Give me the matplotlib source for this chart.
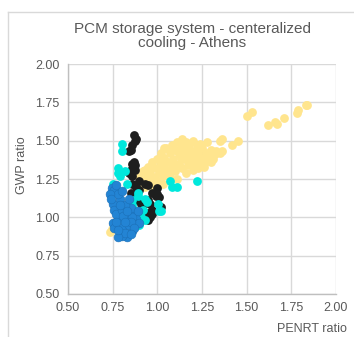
import matplotlib
matplotlib.use("Agg")
import matplotlib.pyplot as plt
from matplotlib.lines import Line2D

plt.rcParams['font.family'] = ['Liberation Sans', 'DejaVu Sans']

# Scenario series: (PENRT ratio, GWP ratio)
yellow_x = [0.735, 0.745, 0.76, 0.78, 0.82, 0.85, 0.87, 0.88, 0.90, 0.90, 0.92, 0.92, 0.93, 0.94,
            0.95, 0.96, 0.96, 0.97, 0.98, 0.99, 1.00, 1.00, 1.01, 1.02, 1.02, 1.03, 1.04, 1.04,
            1.05, 1.06, 1.06, 1.07, 1.08, 1.08, 1.09, 1.10, 1.10, 1.11, 1.12, 1.12, 1.13, 1.14,
            1.14, 1.15, 1.15, 1.16, 1.17, 1.17, 1.18, 1.19, 1.19, 1.20, 1.21, 1.21, 1.22, 1.23,
            1.23, 1.24, 1.25, 1.25, 1.26, 1.27, 1.28, 1.29, 1.30, 1.31, 1.32, 1.33, 1.35, 1.36,
            1.35, 1.36, 1.42, 1.45, 1.50, 1.53, 1.62, 1.66, 1.67, 1.71, 1.78, 1.79, 1.83, 1.84,
            0.98, 1.00, 0.93, 0.91, 1.03, 1.07, 1.11, 1.16, 1.20, 1.26, 1.30, 1.13, 1.09, 0.95,
            1.04, 1.18, 1.23, 1.28]
yellow_y = [0.905, 0.925, 0.95, 0.98, 1.05, 1.12, 1.15, 1.18, 1.22, 1.26, 1.24, 1.30, 1.20, 1.27,
            1.33, 1.22, 1.30, 1.36, 1.26, 1.32, 1.38, 1.24, 1.29, 1.35, 1.42, 1.27, 1.32, 1.39,
            1.45, 1.30, 1.36, 1.42, 1.33, 1.47, 1.38, 1.44, 1.30, 1.49, 1.35, 1.41, 1.46, 1.32,
            1.51, 1.38, 1.44, 1.49, 1.34, 1.41, 1.47, 1.37, 1.43, 1.50, 1.33, 1.40, 1.46, 1.36,
            1.42, 1.48, 1.39, 1.45, 1.36, 1.42, 1.49, 1.40, 1.44, 1.38, 1.41, 1.43, 1.42, 1.43,
            1.50, 1.51, 1.47, 1.50, 1.66, 1.69, 1.60, 1.62, 1.61, 1.65, 1.68, 1.70, 1.73, 1.73,
            1.19, 1.20, 1.31, 1.03, 1.22, 1.26, 1.25, 1.29, 1.31, 1.33, 1.36, 1.39, 1.34, 1.25,
            1.45, 1.39, 1.32, 1.37]

black_x = [0.87, 0.88, 0.875, 0.86, 0.85, 0.84, 0.87, 0.86, 0.875, 0.875, 0.85, 0.84, 0.86, 0.86,
           0.85, 0.88, 0.90, 0.90, 0.93, 0.95, 0.996, 1.01, 1.02, 0.97, 0.96, 0.95, 0.88, 0.87,
           0.92, 0.94, 0.97, 1.00, 0.875, 0.99, 0.96, 0.97, 0.94, 0.95, 0.875, 0.91]
black_y = [1.535, 1.51, 1.50, 1.47, 1.44, 1.43, 1.36, 1.35, 1.34, 1.31, 1.31, 1.29, 1.27, 1.22,
           1.16, 1.20, 1.18, 1.24, 1.22, 1.21, 1.19, 1.13, 1.07, 1.05, 1.00, 1.11, 1.11, 1.14,
           1.08, 1.03, 1.16, 1.15, 1.21, 1.14, 1.09, 1.025, 1.025, 0.98, 1.12, 1.09]

cyan_x = [0.80, 0.80, 0.78, 0.79, 0.75, 0.83, 1.07, 1.11, 1.22, 0.93, 0.89, 0.86, 0.87, 0.92,
          1.01, 0.91, 1.08, 0.89, 1.005, 1.02, 0.94, 0.86, 0.85, 0.91, 0.93, 0.90, 0.78, 0.82]
cyan_y = [1.48, 1.43, 1.32, 1.27, 1.22, 1.22, 1.24, 1.20, 1.24, 1.12, 1.16, 1.11, 1.05, 1.05,
          1.04, 1.00, 1.20, 1.14, 1.09, 1.04, 1.10, 1.08, 1.05, 1.04, 0.98, 0.95, 1.29, 1.30]

blue_x = [0.745, 0.76, 0.77, 0.79, 0.75, 0.76, 0.78, 0.75, 0.79, 0.83, 0.86, 0.875, 0.875, 0.85,
          0.83, 0.81, 0.88, 0.80, 0.82, 0.77, 0.80, 0.82, 0.78, 0.80, 0.84, 0.86, 0.84, 0.78,
          0.90, 0.89, 0.76, 0.81, 0.77, 0.83, 0.85, 0.87, 0.79, 0.82, 0.85, 0.78, 0.735, 0.74]
blue_y = [1.19, 1.18, 1.21, 1.12, 1.09, 1.05, 0.99, 0.96, 0.92, 0.87, 0.91, 0.95, 1.03, 1.06,
          1.00, 0.94, 0.99, 0.88, 0.90, 1.02, 1.05, 1.08, 1.15, 1.17, 1.12, 1.00, 0.95, 0.87,
          0.96, 1.04, 0.93, 1.01, 0.97, 1.04, 0.97, 0.93, 1.08, 0.97, 0.89, 0.92, 1.15, 1.12]

x_ticks = [0.50, 0.75, 1.00, 1.25, 1.50, 1.75, 2.00]
y_ticks = [0.50, 0.75, 1.00, 1.25, 1.50, 1.75, 2.00]

title = "PCM storage system - centeralized\ncooling - Athens"
x_label = "PENRT ratio"
y_label = "GWP ratio"

W, H = 354, 337
fig = plt.figure(figsize=(W / 100, H / 100), dpi=100)
ax = fig.add_axes([68 / W, 1 - 294 / H, (336 - 68) / W, (294 - 64) / H])

ms = 40
ax.scatter(yellow_x, yellow_y, s=ms, color="#FFE58E", linewidths=0, zorder=3)
ax.scatter(black_x, black_y, s=ms, color="#1E1E1E", linewidths=0, zorder=4)
ax.scatter(cyan_x, cyan_y, s=ms, color="#00E8DC", linewidths=0, zorder=5)
ax.scatter(blue_x, blue_y, s=ms, color="#2384D4", edgecolors="#1C70B8", linewidths=0.4, zorder=6)

ax.set_xlim(0.5, 2.0)
ax.set_ylim(0.5, 2.0)
ax.set_xticks(x_ticks)
ax.set_yticks(y_ticks)
ax.set_xticklabels([f"{v:.2f}" for v in x_ticks])
ax.set_yticklabels([f"{v:.2f}" for v in y_ticks])
ax.grid(True, color="#D9D9D9", linewidth=1.0, zorder=0)
ax.set_axisbelow(True)
for s in ["top", "right"]:
    ax.spines[s].set_visible(False)
for s in ["left", "bottom"]:
    ax.spines[s].set_color("#BFBFBF")
    ax.spines[s].set_linewidth(1.0)
ax.tick_params(length=0, labelsize=9, labelcolor="#595959", pad=6)

fig.text(192 / W, 1 - 36 / H, title, ha="center", va="center", fontsize=11,
         color="#595959", linespacing=1.0)
fig.text(347 / W, 1 - 329 / H, x_label, ha="right", va="center", fontsize=9, color="#595959")
fig.text(22 / W, 1 - 165 / H, y_label, ha="center", va="center", rotation=90,
         fontsize=9, color="#595959")

# chart area frame
fig.add_artist(Line2D([8 / W, 8 / W], [0, 1 - 12 / H], transform=fig.transFigure,
                      color="#D9D9D9", linewidth=1.0))
fig.add_artist(Line2D([8 / W, 1], [1 - 12 / H, 1 - 12 / H], transform=fig.transFigure,
                      color="#D9D9D9", linewidth=1.0))

fig.savefig("out.png", dpi=100, facecolor="white")
